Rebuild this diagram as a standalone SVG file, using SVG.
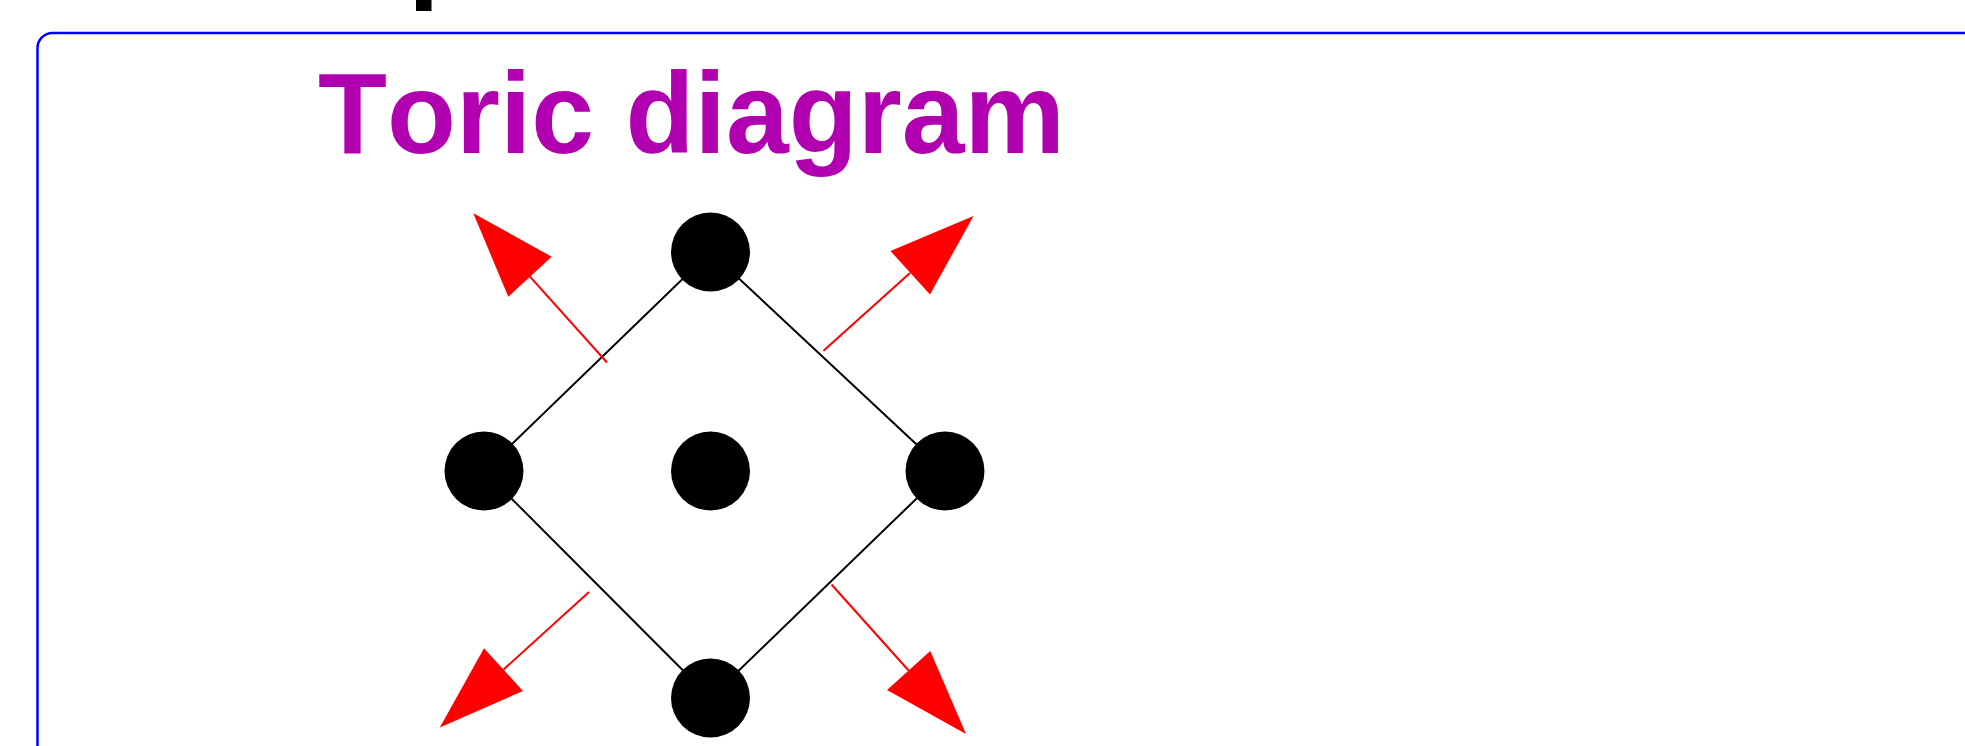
<svg xmlns="http://www.w3.org/2000/svg" width="1965" height="746" viewBox="0 0 1965 746">
  <style>
    .frame { fill: none; stroke: #0000ff; stroke-width: 2.5; }
    .title { font-family: "Liberation Sans", Arial, sans-serif; font-weight: bold; font-size: 112px; fill: #b000b0; font-kerning: none; }
    .edge { stroke: #000000; stroke-width: 2; fill: none; }
    .arrow-line { stroke: #ff0000; stroke-width: 2; fill: none; }
    .arrow-head { fill: #ff0000; stroke: none; }
    .node { fill: #000000; }
  </style>
  <rect x="0" y="0" width="1965" height="746" fill="#ffffff"/>
  <rect x="416" y="-5" width="15.5" height="16" fill="#000000"/>
  <rect class="frame" x="37.5" y="33" width="2000" height="800" rx="15" ry="15"/>
  <text class="title" x="0" y="0" transform="translate(318,153) scale(1,1.03)" textLength="747" lengthAdjust="spacingAndGlyphs">Toric diagram</text>
  <g id="connectors">
    <line class="edge" x1="710.5" y1="252" x2="484" y2="471"/>
    <line class="edge" x1="710.5" y1="252" x2="945" y2="471"/>
    <line class="edge" x1="484" y1="471" x2="710.5" y2="698"/>
    <line class="edge" x1="945" y1="471" x2="710.5" y2="698"/>
    <g id="arrow-ul">
      <line class="arrow-line" x1="607" y1="362.5" x2="530" y2="276.7"/>
      <polygon class="arrow-head" points="473.3,213.3 508.3,296.7 551.7,256.7"/>
    </g>
    <g id="arrow-ur">
      <line class="arrow-line" x1="823.5" y1="350.8" x2="910" y2="273"/>
      <polygon class="arrow-head" points="973.5,216 890.5,251 930,294.5"/>
    </g>
    <g id="arrow-ll">
      <line class="arrow-line" x1="589" y1="592" x2="503.5" y2="669.6"/>
      <polygon class="arrow-head" points="439.8,727.5 484,648.3 523,691"/>
    </g>
    <g id="arrow-lr">
      <line class="arrow-line" x1="831.5" y1="584.5" x2="908.6" y2="670.5"/>
      <polygon class="arrow-head" points="966,734 887,690 930.3,651"/>
    </g>
  </g>
  <g id="node-top"><circle class="node" cx="710.5" cy="252" r="39.5"/></g>
  <g id="node-left"><circle class="node" cx="484" cy="471" r="39.5"/></g>
  <g id="node-center"><circle class="node" cx="710.5" cy="471" r="39.5"/></g>
  <g id="node-right"><circle class="node" cx="945" cy="471" r="39.5"/></g>
  <g id="node-bottom"><circle class="node" cx="710.5" cy="698" r="39.5"/></g>
</svg>
